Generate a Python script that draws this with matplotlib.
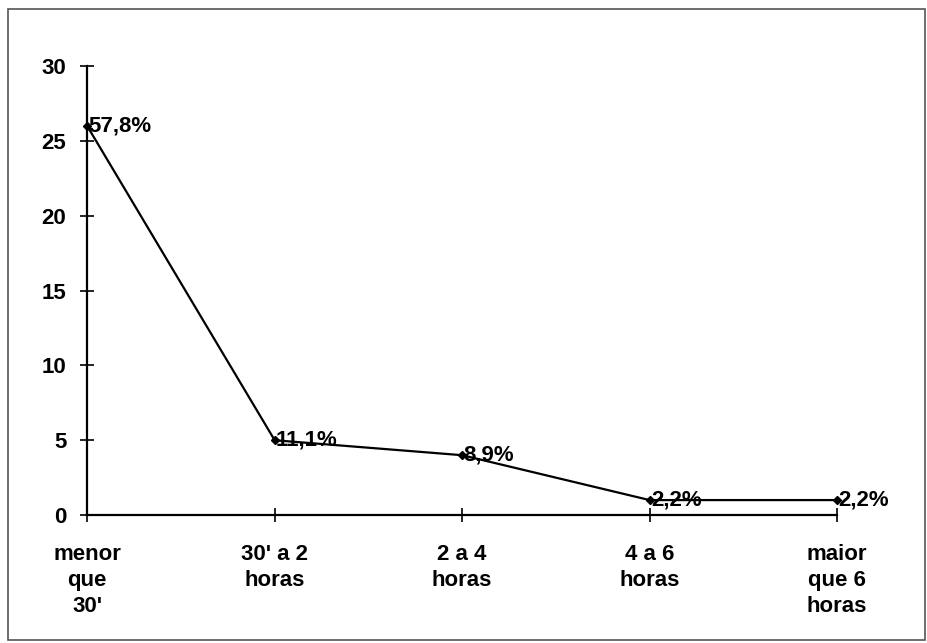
import matplotlib.pyplot as plt
from matplotlib.patches import Rectangle

plt.rcParams['font.family'] = ['Liberation Sans', 'DejaVu Sans']
plt.rcParams['font.weight'] = 'bold'

categorias = ['menor\nque\n30\'', '30\' a 2\nhoras', '2 a 4\nhoras', '4 a 6\nhoras', 'maior\nque 6\nhoras']
valores = [26, 5, 4, 1, 1]
rotulos = ['57,8%', '11,1%', '8,9%', '2,2%', '2,2%']

fig = plt.figure(figsize=(9.28, 6.43), dpi=100)
ax = fig.add_axes([0.094, 0.199, 0.808, 0.698])

x = list(range(len(categorias)))
ax.plot(x, valores, color='black', lw=1.6, marker='D', ms=4, clip_on=False)

for xi, v, r in zip(x, valores, rotulos):
    ax.annotate(r, (xi, v), xytext=(1, 0), textcoords='offset points',
                ha='left', va='center', fontsize=16, fontweight='bold')

ax.set_xlim(0, 4)
ax.set_ylim(0, 30)
ax.set_yticks(range(0, 31, 5))
ax.set_xticks(x)
ax.set_xticklabels(categorias, linespacing=1.3)

for s in ['top', 'right']:
    ax.spines[s].set_visible(False)
for s in ['left', 'bottom']:
    ax.spines[s].set_linewidth(1.6)

ax.tick_params(axis='both', direction='inout', length=10, width=1.2, labelsize=16)
ax.tick_params(axis='x', pad=16)
ax.tick_params(axis='y', pad=10)

# moldura da figura
fig.patches.append(Rectangle((8 / 928, 3 / 643), 917 / 928, 631 / 643,
                             transform=fig.transFigure, fill=False,
                             edgecolor='#555555', lw=1.2))

fig.savefig('out.png', dpi=100)
